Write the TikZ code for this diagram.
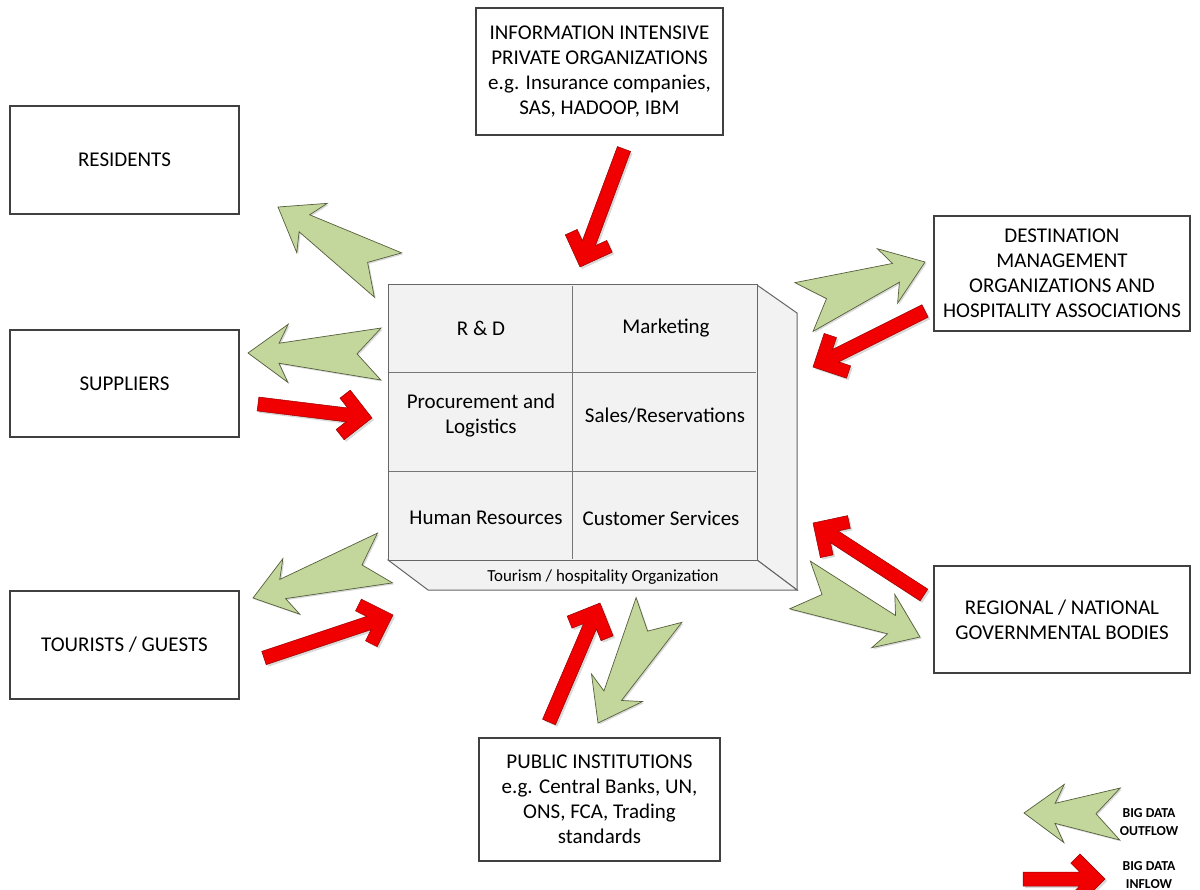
\documentclass[tikz,border=0pt]{standalone}
\usepackage{fontspec}
\setmainfont{Carlito}
\usetikzlibrary{calc}
\definecolor{outgreen}{RGB}{195,214,155}
\definecolor{outedge}{RGB}{85,95,60}
\definecolor{inred}{RGB}{240,0,0}
\definecolor{inedge}{RGB}{150,0,0}
\definecolor{boxgray}{RGB}{242,242,242}
\definecolor{boxline}{RGB}{118,118,118}

\newcommand{\arrowframe}[2]{%
  \pgfpointdiff{\pgfpointanchor{#1}{center}}{\pgfpointanchor{#2}{center}}%
  \pgfgetlastxy{\adx}{\ady}%
  \pgfmathsetmacro\alen{veclen(\adx,\ady)}%
  \pgfmathsetmacro\aang{atan2(\ady,\adx)}%
}
\newcommand{\greenshape}[1]{\path[#1] (\alen pt,0pt) -- (\alen pt-40pt,29pt) -- (\alen pt-31pt,10pt) -- (0pt,26pt) -- (24pt,0pt) -- (0pt,-26pt) -- (\alen pt-31pt,-10pt) -- (\alen pt-40pt,-29pt) -- cycle;}
\newcommand{\redshape}[1]{\path[#1] (0pt,7pt) -- (\alen pt-25.4pt,7pt) -- (\alen pt-34.2pt,15.8pt) -- (\alen pt-25pt,25pt) -- (\alen pt,0pt) -- (\alen pt-25pt,-25pt) -- (\alen pt-34.2pt,-15.8pt) -- (\alen pt-25.4pt,-7pt) -- (0pt,-7pt) -- cycle;}
\newcommand{\outflowarrow}[2]{%
  \arrowframe{#1}{#2}%
  \begin{scope}[shift={(#1)},xshift=1.5pt,yshift=-1.5pt,rotate=\aang]\greenshape{fill=black,opacity=0.15}\end{scope}%
  \begin{scope}[shift={(#1)},rotate=\aang]\greenshape{fill=outgreen,draw=outedge,line width=0.7pt}\end{scope}%
}
\newcommand{\inflowarrow}[2]{%
  \arrowframe{#1}{#2}%
  \begin{scope}[shift={(#1)},xshift=2pt,yshift=-2pt,rotate=\aang]\redshape{fill=black,opacity=0.15}\end{scope}%
  \begin{scope}[shift={(#1)},rotate=\aang]\redshape{fill=inred,draw=inedge,line width=0.5pt}\end{scope}%
}

\tikzset{
  entity/.style={draw=black!75, line width=1.4pt, fill=white, align=center, inner sep=2pt, font=\fontsize{21}{25}\selectfont},
  face/.style={fill=boxgray, draw=black!60, line width=1pt},
  gridline/.style={draw=boxline, line width=1pt},
  celltext/.style={align=center, inner sep=0pt, font=\fontsize{21}{25}\selectfont},
  smalltext/.style={inner sep=0pt, font=\fontsize{16.9}{20}\selectfont},
  legendtext/.style={align=center, inner sep=0pt, font=\bfseries\fontsize{13.7}{18}\selectfont}
}

\begin{document}
\begin{tikzpicture}[x=1pt,y=-1pt]
\fill[white] (0,0) rectangle (1200,890);
\clip (0,0) rectangle (1200,890);

% outer entities
\node[entity, minimum width=247pt, minimum height=127pt] (info) at (599.5,71.5) {INFORMATION INTENSIVE\\PRIVATE ORGANIZATIONS\\e.g. Insurance companies,\\SAS, HADOOP, IBM};
\node[entity, minimum width=229pt, minimum height=108pt] (res) at (124.5,160) {RESIDENTS};
\node[entity, minimum width=229pt, minimum height=107pt] (sup) at (124.5,383.5) {SUPPLIERS};
\node[entity, minimum width=229pt, minimum height=108pt] (tour) at (124.5,645) {TOURISTS / GUESTS};
\node[entity, minimum width=256pt, minimum height=115pt] (dmo) at (1062,273.5) {DESTINATION\\MANAGEMENT\\ORGANIZATIONS AND\\HOSPITALITY ASSOCIATIONS};
\node[entity, minimum width=256pt, minimum height=107pt] (reg) at (1062,619.5) {REGIONAL / NATIONAL\\GOVERNMENTAL BODIES};
\node[entity, minimum width=241pt, minimum height=123pt] (pub) at (599.5,799.5) {PUBLIC INSTITUTIONS\\e.g. Central Banks, UN,\\ONS, FCA, Trading\\standards};

% central organisation box
\coordinate (fTL) at (388,285);
\coordinate (fTR) at (757,285);
\coordinate (fBR) at (757,560);
\coordinate (fBL) at (388,560);
\coordinate (bTR) at (797,313);
\coordinate (bBR) at (797,590);
\coordinate (bBL) at (428,590);
\path[face] (fTR) -- (bTR) -- (bBR) -- (fBR) -- cycle;
\path[face] (fBL) -- (fBR) -- (bBR) -- (bBL) -- cycle;
\path[face] (fTL) rectangle (fBR);
\draw[gridline] (572,286) -- (572,559);
\draw[gridline] (389,373) -- (756,373);
\draw[gridline] (389,472) -- (756,472);
\node[celltext] (rd) at (481,328) {R \& D};
\node[celltext] (mkt) at (666,328) {Marketing};
\node[celltext] (proc) at (481,416) {Procurement and\\Logistics};
\node[celltext] (sales) at (665,416) {Sales/Reservations};
\node[celltext] (hr) at (486,518) {Human Resources};
\node[celltext] (cs) at (661,518) {Customer Services};
\node[smalltext] (org) at (603,577) {Tourism / hospitality Organization};

% arrow end points
\coordinate (g1t) at (388,275); \coordinate (g1h) at (278,207);
\coordinate (g2t) at (381,354); \coordinate (g2h) at (248,353);
\coordinate (g3t) at (385,558); \coordinate (g3h) at (253,598);
\coordinate (g4t) at (804,307); \coordinate (g4h) at (925,262);
\coordinate (g5t) at (800,585); \coordinate (g5h) at (920,637);
\coordinate (g6t) at (659,610); \coordinate (g6h) at (598,723);
\coordinate (g7t) at (1120,814); \coordinate (g7h) at (1024,813);
\coordinate (r1t) at (624,149); \coordinate (r1h) at (580,267);
\coordinate (r2t) at (258,404); \coordinate (r2h) at (372,418);
\coordinate (r3t) at (264,658); \coordinate (r3h) at (393,615);
\coordinate (r4t) at (925,311); \coordinate (r4h) at (813,367);
\coordinate (r5t) at (924,595); \coordinate (r5h) at (813,523);
\coordinate (r6t) at (549,722); \coordinate (r6h) at (600,603);
\coordinate (r7t) at (1023,879); \coordinate (r7h) at (1105,879);

\outflowarrow{g1t}{g1h}
\outflowarrow{g2t}{g2h}
\outflowarrow{g3t}{g3h}
\outflowarrow{g4t}{g4h}
\outflowarrow{g5t}{g5h}
\outflowarrow{g6t}{g6h}
\outflowarrow{g7t}{g7h}
\inflowarrow{r1t}{r1h}
\inflowarrow{r2t}{r2h}
\inflowarrow{r3t}{r3h}
\inflowarrow{r4t}{r4h}
\inflowarrow{r5t}{r5h}
\inflowarrow{r6t}{r6h}
\inflowarrow{r7t}{r7h}

% legend
\node[legendtext] (lout) at (1149,822) {BIG DATA\\OUTFLOW};
\node[legendtext] (lin) at (1149,875) {BIG DATA\\INFLOW};
\end{tikzpicture}
\end{document}
